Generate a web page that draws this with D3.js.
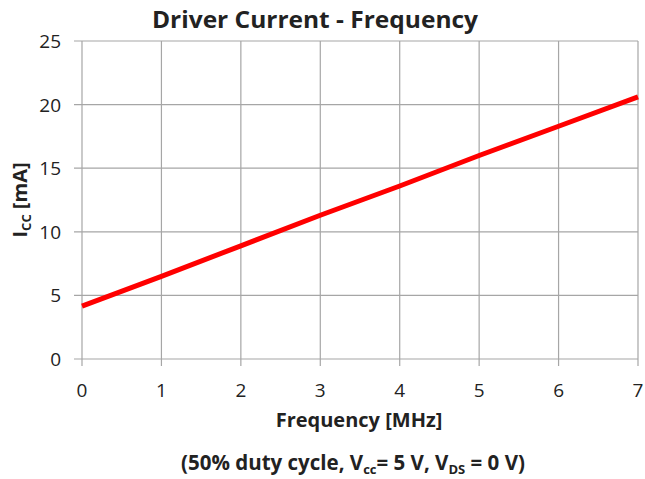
<!DOCTYPE html>
<html>
<head>
<meta charset="utf-8">
<script src="https://cdn.jsdelivr.net/npm/d3@7"></script>
<style>
body{margin:0;background:#fff;}
svg{font-family:"Open Sans",Lato,sans-serif;}
</style>
</head>
<body>
<div id="chart"></div>
<script>
const freqMHz=[0,1,2,3,4,5,6,7];
const iccMA=[4.15,6.5,8.9,11.3,13.6,16.0,18.3,20.6];
const xTicks=[0,1,2,3,4,5,6,7];
const yTicks=[0,5,10,15,20,25];

const W=645,H=479;
const m={left:82,top:41,right:7,bottom:120};
const iw=W-m.left-m.right,ih=H-m.top-m.bottom;

const svg=d3.select("#chart").append("svg").attr("width",W).attr("height",H);
const g=svg.append("g").attr("transform",`translate(${m.left},${m.top})`);

const x=d3.scaleLinear().domain([0,7]).range([0,iw]);
const y=d3.scaleLinear().domain([0,25]).range([ih,0]);

// grid
g.append("g").selectAll("line").data(xTicks).enter().append("line")
  .attr("x1",d=>x(d)).attr("x2",d=>x(d)).attr("y1",0).attr("y2",ih+7)
  .attr("stroke","#a6a6a6").attr("stroke-width",1.2);
g.append("g").selectAll("line").data(yTicks).enter().append("line")
  .attr("x1",-8).attr("x2",iw).attr("y1",d=>y(d)).attr("y2",d=>y(d))
  .attr("stroke","#a6a6a6").attr("stroke-width",1.2);

// tick labels
g.append("g").selectAll("text").data(xTicks).enter().append("text")
  .attr("x",d=>x(d)).attr("y",ih+38)
  .attr("text-anchor","middle").attr("font-size",19).attr("fill","#222")
  .text(d=>d);
g.append("g").selectAll("text").data(yTicks).enter().append("text")
  .attr("x",-21).attr("y",d=>y(d)+7)
  .attr("text-anchor","end").attr("font-size",19).attr("fill","#222")
  .text(d=>d);

// series
const line=d3.line().x((d,i)=>x(freqMHz[i])).y(d=>y(d));
g.append("path").datum(iccMA)
  .attr("fill","none").attr("stroke","#ff0000").attr("stroke-width",5)
  .attr("d",line);

// title
svg.append("text").attr("x",315).attr("y",28)
  .attr("text-anchor","middle").attr("font-size",24).attr("font-weight","bold").attr("fill","#222")
  .attr("textLength",326).attr("lengthAdjust","spacingAndGlyphs")
  .text("Driver Current - Frequency");

// y label
const yl=svg.append("text").attr("transform","translate(27,200) rotate(-90)")
  .attr("text-anchor","middle").attr("font-size",20).attr("font-weight","bold").attr("fill","#222");
yl.append("tspan").text("I");
yl.append("tspan").attr("font-size",13).attr("dy",4).text("CC");
yl.append("tspan").attr("dy",-4).text(" [mA]");

// x label
svg.append("text").attr("x",359).attr("y",427)
  .attr("text-anchor","middle").attr("font-size",20).attr("font-weight","bold").attr("fill","#222")
  .text("Frequency [MHz]");

// caption
const cap=svg.append("text").attr("x",353).attr("y",470)
  .attr("text-anchor","middle").attr("font-size",20.5).attr("font-weight","bold").attr("fill","#222");
cap.append("tspan").text("(50% duty cycle, V");
cap.append("tspan").attr("font-size",13).attr("dy",4).text("cc");
cap.append("tspan").attr("dy",-4).text("= 5 V, V");
cap.append("tspan").attr("font-size",13).attr("dy",4).text("DS");
cap.append("tspan").attr("dy",-4).text(" = 0 V)");
</script>
</body>
</html>
